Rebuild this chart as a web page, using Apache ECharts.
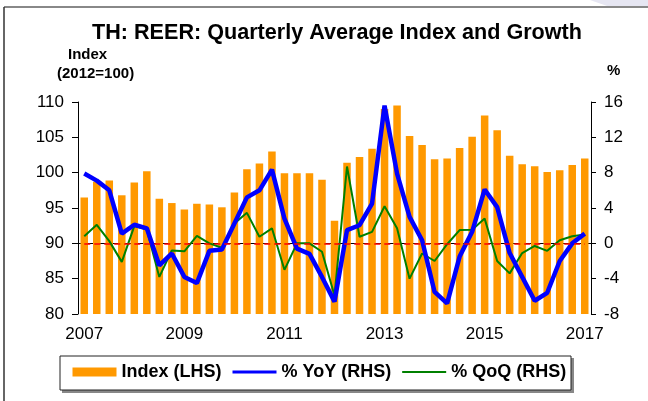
<!DOCTYPE html>
<html>
<head>
<meta charset="utf-8">
<script src="https://cdn.jsdelivr.net/npm/echarts@6/dist/echarts.min.js"></script>
<style>
html,body{margin:0;padding:0;background:#fff;}
#chart{width:648px;height:401px;}
</style>
</head>
<body>
<div id="chart"></div>
<script>
var categories = ['2007Q1','2007Q2','2007Q3','2007Q4','2008Q1','2008Q2','2008Q3','2008Q4',
  '2009Q1','2009Q2','2009Q3','2009Q4','2010Q1','2010Q2','2010Q3','2010Q4',
  '2011Q1','2011Q2','2011Q3','2011Q4','2012Q1','2012Q2','2012Q3','2012Q4',
  '2013Q1','2013Q2','2013Q3','2013Q4','2014Q1','2014Q2','2014Q3','2014Q4',
  '2015Q1','2015Q2','2015Q3','2015Q4','2016Q1','2016Q2','2016Q3','2016Q4','2017Q1'];
var indexValues = [96.5,98.7,98.9,96.8,98.6,100.2,96.3,95.7,
  94.8,95.6,95.5,95.1,97.2,100.5,101.3,103.0,
  99.9,99.9,99.9,99.0,93.2,101.4,102.2,103.4,
  109.0,109.5,105.2,103.9,101.9,102.0,103.5,105.1,
  108.1,106.0,102.4,101.2,100.9,100.1,100.35,101.1,102.0];
var yoyValues = [7.9,7.1,6.0,1.1,2.1,1.7,-2.5,-1.15,
  -3.8,-4.5,-0.85,-0.7,2.25,5.2,6.0,8.35,
  2.8,-0.6,-1.2,-3.8,-6.6,1.5,2.05,4.5,
  15.6,7.9,3.0,0.35,-5.5,-6.8,-1.5,1.3,
  6.1,4.1,-1.1,-3.8,-6.5,-5.6,-2.0,0.0,1.1];
var qoqValues = [0.8,2.1,0.25,-2.1,1.95,1.55,-3.8,-0.8,
  -0.9,0.85,0.0,-0.5,2.25,3.45,0.75,1.7,
  -3.0,0.0,0.0,-0.95,-5.9,8.7,0.75,1.3,
  4.2,1.7,-4.0,-1.15,-2.0,-0.1,1.5,1.55,
  2.8,-2.0,-3.4,-1.1,-0.3,-0.85,0.35,0.8,1.0];
var leftTicks = {min:80, max:110, interval:5};
var rightTicks = {min:-8, max:16, interval:4};

var chart = echarts.init(document.getElementById('chart'), null, {renderer:'canvas'});
var font = 'Arial, "Liberation Sans", sans-serif';
chart.setOption({
  backgroundColor:'#fff',
  animation:false,
  title:{
    text:'TH: REER: Quarterly Average Index and Growth',
    left:92, top:22, padding:0,
    textStyle:{fontFamily:font, fontWeight:'bold', fontSize:21.6, color:'#000'}
  },
  grid:{left:78, right:57, top:102, bottom:87},
  legend:{
    left:72.5, top:363, padding:0,
    itemWidth:44, itemHeight:9, itemGap:11, symbolKeepAspect:true,
    textStyle:{fontFamily:font, fontWeight:'bold', fontSize:18, color:'#000'},
    data:[
      {name:'Index (LHS)', icon:'rect'},
      {name:'% YoY (RHS)', icon:'path://M0,0 H44 V3 H0 Z'},
      {name:'% QoQ (RHS)', icon:'path://M0,0 H44 V2 H0 Z'}
    ]
  },
  xAxis:{
    type:'category', data:categories, boundaryGap:true,
    axisLine:{lineStyle:{color:'#000', width:1}},
    axisTick:{interval:3, length:5, lineStyle:{color:'#000'}},
    axisLabel:{interval:7, margin:12, fontFamily:font, fontSize:17, color:'#000',
      formatter:function(v){return v.slice(0,4);}}
  },
  yAxis:[
    {type:'value', min:leftTicks.min, max:leftTicks.max, interval:leftTicks.interval,
     splitLine:{show:false},
     axisLine:{show:true, lineStyle:{color:'#000'}},
     axisTick:{show:true, length:6, lineStyle:{color:'#000'}},
     axisLabel:{margin:14, fontFamily:font, fontSize:17, color:'#000'}},
    {type:'value', min:rightTicks.min, max:rightTicks.max, interval:rightTicks.interval,
     position:'right', splitLine:{show:false},
     axisLine:{show:true, lineStyle:{color:'#000'}},
     axisTick:{show:true, length:5, lineStyle:{color:'#000'}},
     axisLabel:{margin:13, fontFamily:font, fontSize:17, color:'#000'}}
  ],
  series:[
    {name:'Index (LHS)', type:'bar', yAxisIndex:0, data:indexValues,
     barWidth:'60%', itemStyle:{color:'#FF9900'}, z:1},
    {name:'% YoY (RHS)', type:'line', yAxisIndex:1, data:yoyValues,
     symbol:'none', lineStyle:{color:'#0000FF', width:4.5}, itemStyle:{color:'#0000FF'}, z:4},
    {name:'% QoQ (RHS)', type:'line', yAxisIndex:1, data:qoqValues,
     symbol:'none', lineStyle:{color:'#008000', width:2}, itemStyle:{color:'#008000'}, z:3,
     markLine:{silent:true, symbol:'none', label:{show:false},
       lineStyle:{color:'#FF0000', type:[6,4], width:1.5},
       data:[[{coord:[categories[0],0]},{coord:[categories[categories.length-1],0]}]]}}
  ],
  graphic:[
    {type:'polygon', shape:{points:[[590,0],[648,0],[648,7],[610,7]]}, style:{fill:'#E6E6F2'}, silent:true},
    {type:'line', shape:{x1:4,y1:7,x2:648,y2:7}, style:{stroke:'#888', lineWidth:2}, silent:true},
    {type:'line', shape:{x1:4,y1:7,x2:4,y2:401}, style:{stroke:'#333', lineWidth:1.5}, silent:true},
    {type:'rect', shape:{x:62,y:358,width:512,height:35}, style:{fill:'#888'}, silent:true, z:-2},
    {type:'rect', shape:{x:60,y:356,width:511,height:34}, style:{fill:'#fff', stroke:'#222', lineWidth:1}, silent:true, z:-1},
    {type:'text', left:68, top:47, style:{text:'Index', fontFamily:font, fontWeight:'bold', fontSize:15, fill:'#000'}},
    {type:'text', left:57, top:66, style:{text:'(2012=100)', fontFamily:font, fontWeight:'bold', fontSize:15, fill:'#000'}},
    {type:'text', left:607, top:63, style:{text:'%', fontFamily:font, fontWeight:'bold', fontSize:15, fill:'#000'}}
  ]
});
</script>
</body>
</html>
